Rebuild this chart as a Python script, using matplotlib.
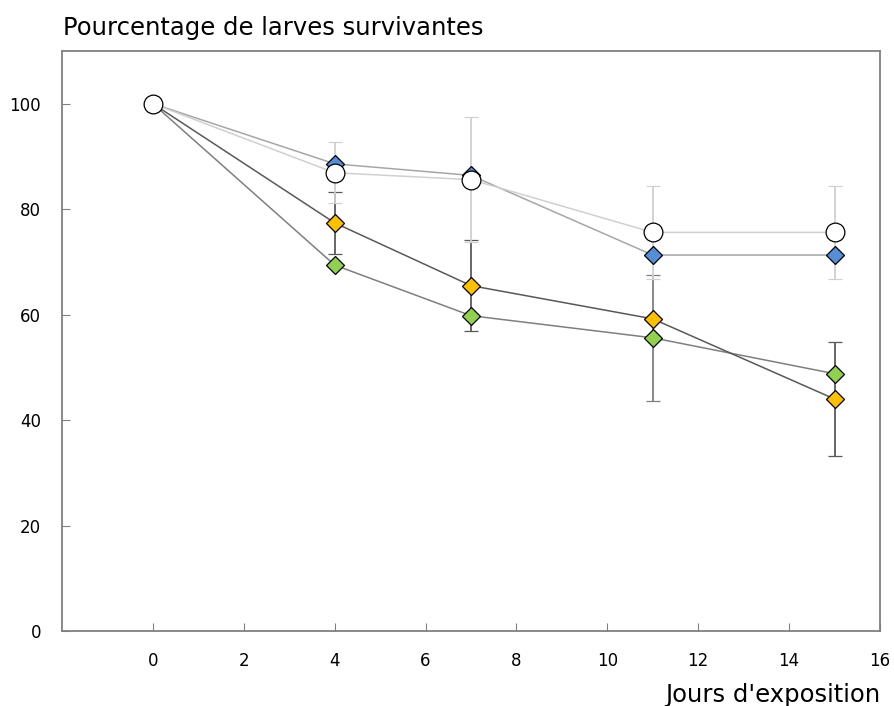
import matplotlib
matplotlib.use("Agg")
import matplotlib.pyplot as plt

plt.rcParams['font.family'] = ['DejaVu Sans']

# jours d'exposition
jours = [0, 4, 7, 11, 15]

# pourcentage de survie par lot (moyenne et erreur)
bleu = [100, 88.6, 86.4, 71.3, 71.3]
bleu_err = [0, 0, 0, 0, 0]
orange = [100, 77.4, 65.5, 59.2, 44.0]
orange_err = [0, 5.9, 8.6, 0, 10.8]
vert = [100, 69.4, 59.8, 55.6, 48.8]
vert_err = [0, 0, 0, 11.9, 0]
blanc = [100, 86.9, 85.6, 75.6, 75.6]
blanc_err = [0, 5.8, 11.8, 8.8, 8.8]

fig = plt.figure(figsize=(8.95, 7.06), dpi=100)
ax = fig.add_axes([0.0693, 0.1062, 0.9139, 0.8216])

series = [
    (vert, vert_err, '#7f7f7f', 'D', '#92D050', 9.5),
    (orange, orange_err, '#595959', 'D', '#FFC000', 9.5),
    (bleu, bleu_err, '#a6a6a6', 'D', '#558ED5', 9.5),
    (blanc, blanc_err, '#d0d0d0', 'o', 'white', 13.5),
]
for y, err, lc, mk, fc, ms in series:
    ax.errorbar(jours, y, yerr=err, color=lc, lw=1.1, elinewidth=1.3,
                capsize=5, capthick=1.3, marker=mk, markersize=ms,
                markerfacecolor=fc, markeredgecolor='black',
                markeredgewidth=0.9)

ax.set_xlim(-2, 16)
ax.set_ylim(0, 110)
ax.set_xticks(range(0, 17, 2))
ax.set_yticks(range(0, 101, 20))
for s in ax.spines.values():
    s.set_color('#808080')
    s.set_linewidth(1.3)
ax.tick_params(axis='both', direction='in', length=6, color='#808080',
               labelsize=12)
ax.tick_params(axis='y', pad=15)
ax.tick_params(axis='x', pad=15)

fig.text(0.0705, 0.96, 'Pourcentage de larves survivantes', fontsize=17.5,
         ha='left', va='center')
fig.text(0.984, 0.0185, "Jours d'exposition", fontsize=17.5, ha='right',
         va='center_baseline')

fig.savefig('out.png', dpi=100)
